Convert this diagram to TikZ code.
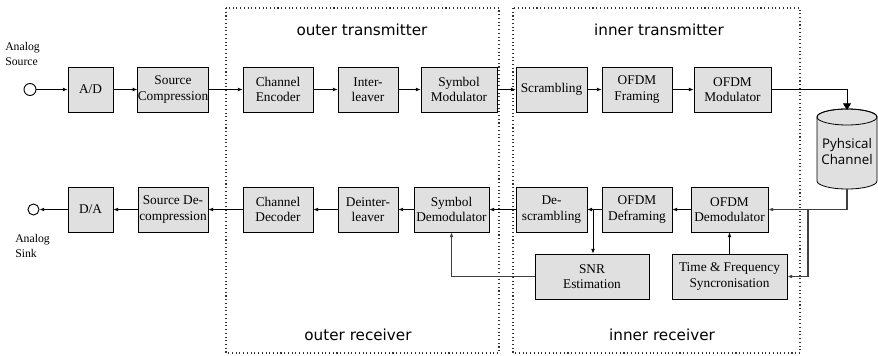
\documentclass[tikz,border=0pt]{standalone}
\usepackage{fontspec}
\setmainfont{Liberation Serif}
\newfontfamily\titlefont{DejaVu Sans}
\newfontfamily\chanfont{Open Sans}
\usetikzlibrary{arrows.meta}

\begin{document}
\begin{tikzpicture}[x=0.75pt,y=-0.75pt,
  blk/.style={draw=black, fill=black!12, line width=0.6pt, align=center,
    minimum height=45*0.75pt, inner sep=0pt,
    font=\fontsize{10}{11.5}\selectfont},
  bw/.style={minimum width=#1*0.75pt},
  arr/.style={-{Latex[length=3.5pt,width=2.8pt]}, line width=0.6pt},
  fb/.style={-{Latex[length=3.5pt,width=2.8pt]}, line width=0.9pt, draw=black!75},
  term/.style={circle, draw=black, line width=0.7pt, fill=white, inner sep=0pt},
  region/.style={draw=black!80, dotted, line width=0.8pt},
  ttl/.style={font=\titlefont\fontsize{11.4}{13}\selectfont, anchor=base},
  lbl/.style={font=\fontsize{8.8}{10}\selectfont, anchor=base west, inner sep=0pt},
]
\useasboundingbox (0,0) rectangle (878,356);

% transmitter / receiver regions
\draw[region] (226,8) rectangle (499,353);
\draw[region] (513,8) rectangle (800,353);
\node[ttl] (tOT) at (362,36) {outer transmitter};
\node[ttl] (tIT) at (659,36) {inner transmitter};
\node[ttl] (tOR) at (358,340) {outer receiver};
\node[ttl] (tIR) at (662,340) {inner receiver};

% analog terminals
\node[term, minimum size=12*0.75pt] (src) at (30,89.5) {};
\node[term, minimum size=11*0.75pt] (snk) at (33.5,209.5) {};
\node[lbl] (srcA) at (5,51) {Analog};
\node[lbl] (srcB) at (5,66) {Source};
\node[lbl] (snkA) at (15,242) {Analog};
\node[lbl] (snkB) at (15,257) {Sink};

% transmit chain
\node[blk, bw=45] (ad)    at (90.5,89.5)  {A/D};
\node[blk, bw=70] (scomp) at (173,89.5)   {Source\\Compression};
\node[blk, bw=70] (cenc)  at (278,89.5)   {Channel\\Encoder};
\node[blk, bw=60] (ilv)   at (368,89.5)   {Inter-\\leaver};
\node[blk, bw=76] (smod)  at (459,89.5)   {Symbol\\Modulator};
\node[blk, bw=71] (scr)   at (551.5,89.5) {Scrambling};
\node[blk, bw=70] (ofr)   at (637,89.5)   {OFDM\\Framing};
\node[blk, bw=77] (omod)  at (732.5,89.5) {OFDM\\Modulator};

% receive chain
\node[blk, bw=45] (da)     at (90.5,209.5)  {D/A};
\node[blk, bw=70] (sdec)   at (173,209.5)   {Source De-\\compression};
\node[blk, bw=70] (cdec)   at (278,209.5)   {Channel\\Decoder};
\node[blk, bw=60] (dilv)   at (368,209.5)   {Deinter-\\leaver};
\node[blk, bw=75] (sdemod) at (451.5,209.5) {Symbol\\Demodulator};
\node[blk, bw=71] (dscr)   at (551.5,209.5) {De-\\scrambling};
\node[blk, bw=70] (odfr)   at (637,209.5)   {OFDM\\Deframing};
\node[blk, bw=77] (odemod) at (729.5,209.5) {OFDM\\Demodulator};
\node[blk, bw=114] (snr)   at (592,276.5)   {SNR\\Estimation};
\node[blk, bw=115] (sync)  at (729.5,276.5) {Time \& Frequency\\Syncronisation};

% physical channel (cylinder)
\filldraw[fill=black!12, draw=black, line width=0.6pt]
  (817,117) -- (817,181) arc[start angle=180, end angle=360, x radius=22.5pt, y radius=6pt]
  -- (877,117) arc[start angle=0, end angle=180, x radius=22.5pt, y radius=6pt] -- cycle;
\draw[line width=0.6pt] (847,117) ellipse[x radius=22.5pt, y radius=6pt];
\coordinate (chtop) at (847,110);
\coordinate (chbot) at (847,189);
\node[font=\chanfont\fontsize{10}{12}\selectfont, align=center] (chan) at (847,152) {Pyhsical\\Channel};

% transmit connectors
\draw[arr] (src) -- (ad);
\draw[arr] (ad) -- (scomp);
\draw[arr] (scomp) -- (cenc);
\draw[arr] (cenc) -- (ilv);
\draw[arr] (ilv) -- (smod);
\draw[arr] (smod) -- (scr);
\draw[arr] (scr) -- (ofr);
\draw[arr] (ofr) -- (omod);
\draw[line width=0.6pt, -{Triangle[length=5pt,width=6pt]}] (omod.east) -| (chtop);

% receive connectors
\draw[fb] (chbot) |- (odemod.east);
\coordinate (tap) at (808,209.5);
\draw[fb] (tap) |- (sync.east);
\draw[arr] (sync) -- (odemod);
\draw[arr] (odemod) -- (odfr);
\draw[arr] (odfr) -- (dscr);
\coordinate (snrtap) at (593,209.5);
\draw[arr] (snrtap) -- (snrtap |- snr.north);
\draw[fb] (snr.west) -| (sdemod.south);
\draw[arr] (dscr) -- (sdemod);
\draw[arr] (sdemod) -- (dilv);
\draw[arr] (dilv) -- (cdec);
\draw[arr] (cdec) -- (sdec);
\draw[arr] (sdec) -- (da);
\draw[arr] (da) -- (snk);
\end{tikzpicture}
\end{document}
